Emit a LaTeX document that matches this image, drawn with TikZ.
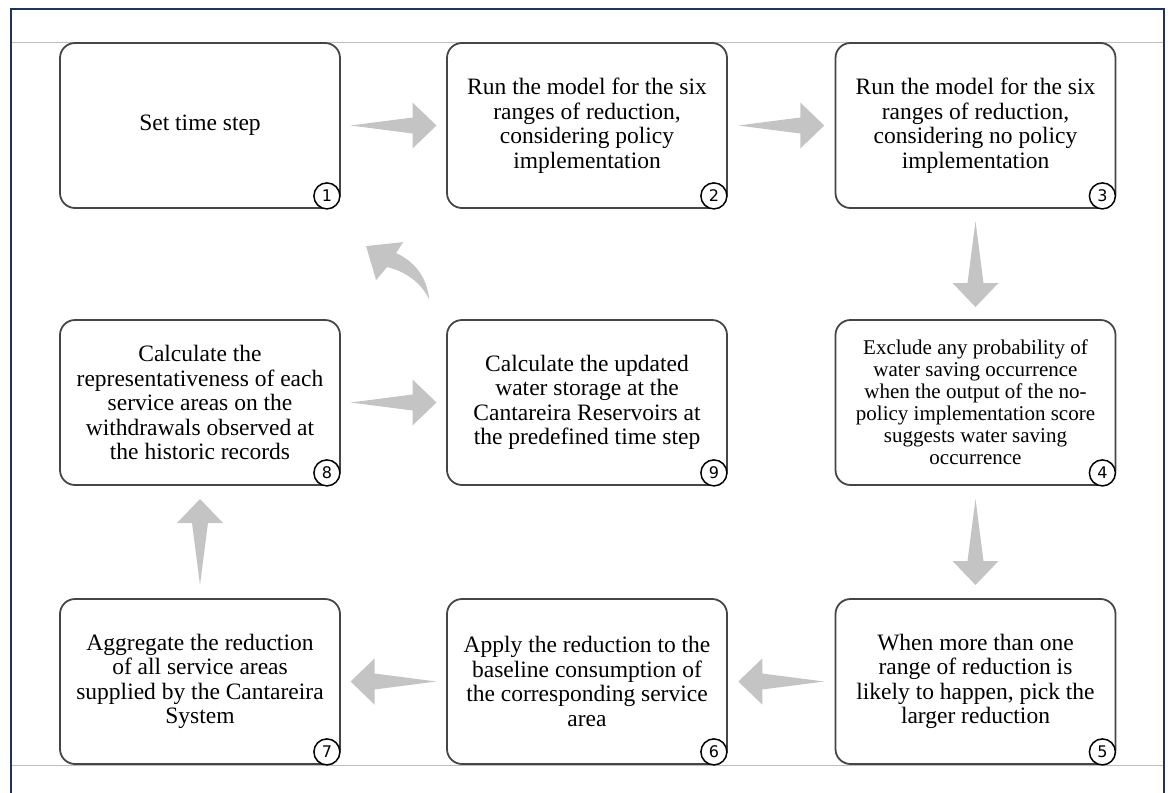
\documentclass[tikz,border=0pt]{standalone}
\usepackage{fontspec}
\setmainfont{Liberation Serif}
\newfontfamily\numfont{DejaVu Sans}
\usetikzlibrary{calc}
\definecolor{framenavy}{HTML}{1F3558}
\definecolor{rulegrey}{HTML}{BDBDBD}
\definecolor{arrowgrey}{HTML}{C4C4C4}
\definecolor{boxline}{HTML}{454545}
\tikzset{
  stepbox/.style={draw=boxline, line width=1.8pt, rounded corners=15pt,
    minimum width=280pt, minimum height=165pt, align=center, inner sep=0pt,
    font=\fontsize{23.5}{24.5}\selectfont},
  smalltext/.style={font=\fontsize{21}{22}\selectfont},
  numtag/.style={circle, draw=black, line width=1.5pt, fill=white,
    minimum size=26pt, inner sep=0pt, font=\numfont\fontsize{16}{16}\selectfont},
  flow/.pic={\fill[arrowgrey] (-43,0) -- (19,8) -- (19,23) -- (43,0)
    -- (19,-23) -- (19,-8) -- cycle;}
}
\begin{document}
\begin{tikzpicture}[x=1pt,y=-1pt]
\useasboundingbox (0,0) rectangle (1171,793);
% page frame and rules
\draw[framenavy, line width=2.6pt] (11,793) -- (11,9) -- (1164,9) -- (1164,793);
\draw[rulegrey, line width=1pt] (12,42) -- (1163,42);
\draw[rulegrey, line width=1pt] (12,765) -- (1163,765);

% steps
\node[stepbox] (b1) at (200,125.5) {Set time step};
\node[stepbox] (b2) at (587,125.5) {Run the model for the six\\ranges of reduction,\\considering policy\\implementation};
\node[stepbox] (b3) at (975.5,125.5) {Run the model for the six\\ranges of reduction,\\considering no policy\\implementation};
\node[stepbox, smalltext] (b4) at (975.5,402.5) {Exclude any probability of\\water saving occurrence\\when the output of the no-\\policy implementation score\\suggests water saving\\occurrence};
\node[stepbox] (b5) at (975.5,681.5) {When more than one\\range of reduction is\\likely to happen, pick the\\larger reduction};
\node[stepbox] (b6) at (587,681.5) {Apply the reduction to the\\baseline consumption of\\the corresponding service\\area};
\node[stepbox] (b7) at (200,681.5) {Aggregate the reduction\\of all service areas\\supplied by the Cantareira\\System};
\node[stepbox] (b8) at (200,402.5) {Calculate the\\representativeness of each\\service areas on the\\withdrawals observed at\\the historic records};
\node[stepbox] (b9) at (587,402.5) {Calculate the updated\\water storage at the\\Cantareira Reservoirs at\\the predefined time step};

% step numbers
\foreach \b/\n in {b1/1,b2/2,b3/3,b4/4,b5/5,b6/6,b7/7,b8/8,b9/9}
  \node[numtag] (t\n) at ($(\b.south east)+(-14,-13)$) {\n};

% block arrows between steps
\pic at ($(b1.east)!0.5!(b2.west)$) {flow};
\pic at ($(b2.east)!0.5!(b3.west)$) {flow};
\pic[rotate=-90] at ($(b3.south)!0.5!(b4.north)$) {flow};
\pic[rotate=-90] at ($(b4.south)!0.5!(b5.north)$) {flow};
\pic[rotate=180] at ($(b5.west)!0.5!(b6.east)$) {flow};
\pic[rotate=180] at ($(b6.west)!0.5!(b7.east)$) {flow};
\pic[rotate=90] at ($(b7.north)!0.5!(b8.south)$) {flow};
\pic at ($(b8.east)!0.5!(b9.west)$) {flow};

% curved arrow from step 9 back to step 1
\begin{scope}[shift={(b9.north west)}]
  \fill[arrowgrey] (-17,-20) .. controls (-19,-42) and (-32,-58) .. (-50,-66)
    -- (-43,-77) -- (-80,-73) -- (-70,-39) -- (-59,-52)
    .. controls (-42,-48) and (-26,-38) .. cycle;
\end{scope}
\end{tikzpicture}
\end{document}
